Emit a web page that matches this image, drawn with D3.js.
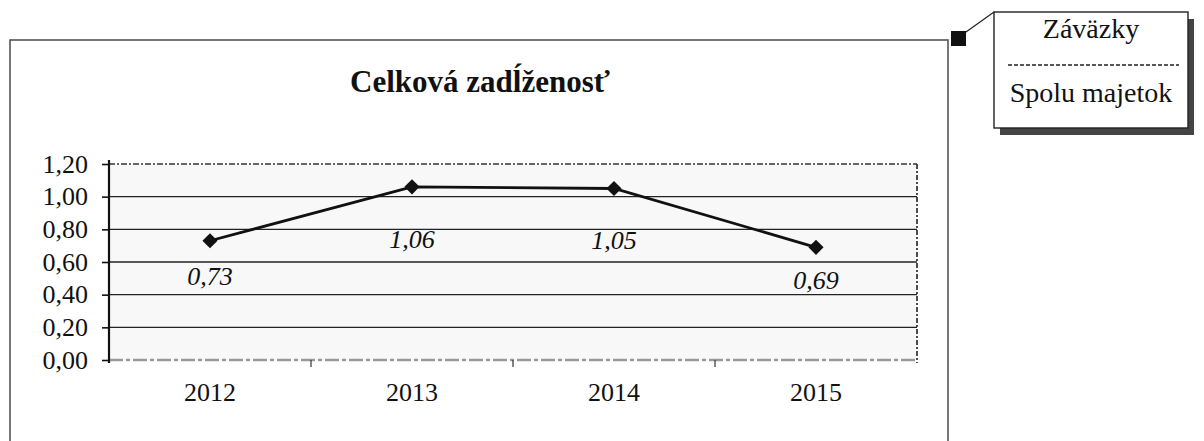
<!DOCTYPE html>
<html>
<head>
<meta charset="utf-8">
<script src="https://cdn.jsdelivr.net/npm/d3@7"></script>
<style>
  body { margin: 0; background: #fff; }
  svg { display: block; }
  text { font-family: "Times New Roman", "Liberation Serif", Tinos, "Nimbus Roman", "Noto Serif", "DejaVu Serif", serif; fill: #111; }
</style>
</head>
<body>
<script>
// data
var years = ["2012", "2013", "2014", "2015"];
var debtRatio = [0.73, 1.06, 1.05, 0.69];
var yTicks = [0, 0.2, 0.4, 0.6, 0.8, 1.0, 1.2];
var chartTitle = "Celková zadĺženosť";
var formulaTop = "Záväzky",
    formulaBottom = "Spolu majetok";

// label placement below each point (hand-moved in the original)
var labelDrop = [44, 61, 60, 42];

var width = 1204, height = 441;
var plot = {left: 109, right: 917, top: 164, bottom: 360};
var serif = '"Times New Roman", "Liberation Serif", Tinos, "Nimbus Roman", "Noto Serif", "DejaVu Serif", serif';

var sk = d3.formatLocale({decimal: ",", thousands: " ", grouping: [3], currency: ["", " €"]});
var fmt = sk.format(".2f");

var svg = d3.select("body").append("svg")
    .attr("width", width)
    .attr("height", height);

// outer chart frame (runs past the bottom of the scan)
svg.append("rect")
    .attr("x", 10).attr("y", 40)
    .attr("width", 938).attr("height", 430)
    .attr("fill", "none")
    .attr("stroke", "#555")
    .attr("stroke-width", 1.6);

svg.append("text")
    .attr("x", 480).attr("y", 92)
    .attr("text-anchor", "middle")
    .style("font-size", "31px")
    .style("font-weight", "bold")
    .text(chartTitle);

var x = d3.scaleBand()
    .domain(years)
    .range([plot.left, plot.right]);

var y = d3.scaleLinear()
    .domain([0, 1.2])
    .range([plot.bottom, plot.top]);

// plot area
svg.append("rect")
    .attr("x", plot.left).attr("y", plot.top)
    .attr("width", plot.right - plot.left)
    .attr("height", plot.bottom - plot.top)
    .attr("fill", "#f8f8f8");

// gridlines
svg.append("g")
  .selectAll("line")
  .data(yTicks.filter(function(d) { return d > 0 && d < 1.2; }))
  .join("line")
    .attr("x1", plot.left).attr("x2", plot.right)
    .attr("y1", function(d) { return y(d); })
    .attr("y2", function(d) { return y(d); })
    .attr("stroke", "#222")
    .attr("stroke-width", 1.4);

// dashed top / right border, grey baseline
svg.append("line")
    .attr("x1", plot.left).attr("x2", plot.right)
    .attr("y1", y(1.2)).attr("y2", y(1.2))
    .attr("stroke", "#333").attr("stroke-width", 1.5)
    .attr("stroke-dasharray", "6,2,2,2");
svg.append("line")
    .attr("x1", plot.right).attr("x2", plot.right)
    .attr("y1", plot.top).attr("y2", plot.bottom + 3)
    .attr("stroke", "#222").attr("stroke-width", 1.6)
    .attr("stroke-dasharray", "5,2,2,2");
svg.append("line")
    .attr("x1", plot.left).attr("x2", plot.right)
    .attr("y1", y(0)).attr("y2", y(0))
    .attr("stroke", "#999").attr("stroke-width", 2.5)
    .attr("stroke-dasharray", "14,3,4,3");

// y axis
var yAxis = svg.append("g")
    .attr("transform", "translate(" + plot.left + ",0)")
    .call(d3.axisLeft(y).tickValues(yTicks).tickFormat(fmt).tickSize(7).tickPadding(14));
yAxis.attr("font-family", null);
yAxis.select(".domain").attr("stroke", "#111").attr("stroke-width", 2.2)
    .attr("d", "M0," + (plot.top - 4) + "V" + (plot.bottom + 3));
yAxis.selectAll(".tick line").attr("stroke", "#111").attr("stroke-width", 1.6);
yAxis.selectAll("text")
    .attr("fill", "#111")
    .style("font-family", serif)
    .style("font-size", "26px");

// x axis: ticks between categories, labels centred
var xAxis = svg.append("g")
    .attr("transform", "translate(0," + plot.bottom + ")");
xAxis.selectAll("line")
  .data(years.slice(1))
  .join("line")
    .attr("x1", function(d) { return x(d); })
    .attr("x2", function(d) { return x(d); })
    .attr("y1", 0).attr("y2", 7)
    .attr("stroke", "#333").attr("stroke-width", 1.2);
xAxis.selectAll("text")
  .data(years)
  .join("text")
    .attr("x", function(d) { return x(d) + x.bandwidth() / 2; })
    .attr("y", 41)
    .attr("text-anchor", "middle")
    .style("font-size", "26px")
    .text(function(d) { return d; });

// series line
var line = d3.line()
    .x(function(d, i) { return x(years[i]) + x.bandwidth() / 2; })
    .y(function(d) { return y(d); });

svg.append("path")
    .datum(debtRatio)
    .attr("d", line)
    .attr("fill", "none")
    .attr("stroke", "#111")
    .attr("stroke-width", 2.8);

var diamond = d3.symbol().type(d3.symbolSquare).size(115);
svg.append("g")
  .selectAll("path")
  .data(debtRatio)
  .join("path")
    .attr("d", diamond)
    .attr("transform", function(d, i) {
      return "translate(" + (x(years[i]) + x.bandwidth() / 2) + "," + y(d) + ") rotate(45)";
    })
    .attr("fill", "#111");

svg.append("g")
  .selectAll("text")
  .data(debtRatio)
  .join("text")
    .attr("x", function(d, i) { return x(years[i]) + x.bandwidth() / 2; })
    .attr("y", function(d, i) { return y(d) + labelDrop[i]; })
    .attr("text-anchor", "middle")
    .style("font-size", "26px")
    .style("font-style", "italic")
    .text(function(d) { return fmt(d); });

// formula callout at top right
var box = {x: 994, y: 12, w: 194, h: 116};
svg.append("rect")
    .attr("x", box.x + 6).attr("y", box.y + 7)
    .attr("width", box.w).attr("height", box.h)
    .attr("fill", "#444");
svg.append("rect")
    .attr("x", box.x).attr("y", box.y)
    .attr("width", box.w).attr("height", box.h)
    .attr("fill", "#fff")
    .attr("stroke", "#222").attr("stroke-width", 1.4);
svg.append("rect")
    .attr("x", 951).attr("y", 31)
    .attr("width", 15).attr("height", 15)
    .attr("fill", "#111");
svg.append("line")
    .attr("x1", 966).attr("y1", 32)
    .attr("x2", box.x).attr("y2", box.y)
    .attr("stroke", "#222").attr("stroke-width", 1.2);
svg.append("text")
    .attr("x", box.x + box.w / 2).attr("y", 38)
    .attr("text-anchor", "middle")
    .style("font-size", "28px")
    .text(formulaTop);
svg.append("line")
    .attr("x1", 1008).attr("x2", 1179)
    .attr("y1", 65).attr("y2", 65)
    .attr("stroke", "#222").attr("stroke-width", 1.6)
    .attr("stroke-dasharray", "4,2");
svg.append("text")
    .attr("x", box.x + box.w / 2).attr("y", 102)
    .attr("text-anchor", "middle")
    .style("font-size", "28px")
    .text(formulaBottom);
</script>
</body>
</html>
